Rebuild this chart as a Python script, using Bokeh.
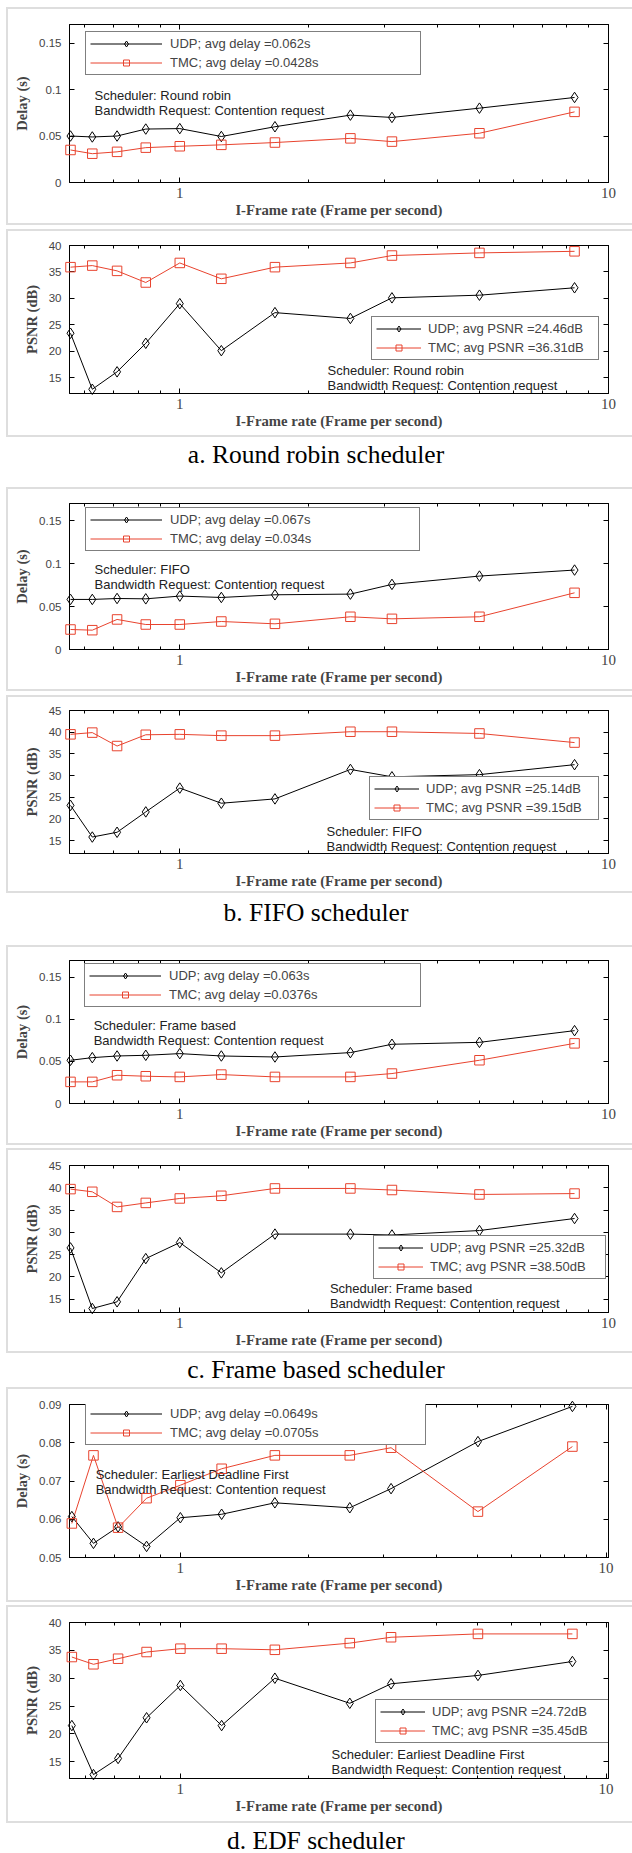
from bokeh.plotting import figure
from bokeh.models import (Range1d, FixedTicker, LogAxis, LinearAxis, Legend,
                          LegendItem, Label, Div, Spacer)
from bokeh.layouts import column
from bokeh.embed import file_html
from bokeh.resources import INLINE

# ---------------- data ----------------
iframe_rate = [0.556, 0.625, 0.714, 0.833, 1.0, 1.25, 1.667, 2.5, 3.125, 5.0, 8.333]

rr_delay_udp = [0.050, 0.049, 0.050, 0.0575, 0.058, 0.0495, 0.060, 0.0725, 0.070, 0.080, 0.0915]
rr_delay_tmc = [0.035, 0.031, 0.033, 0.0375, 0.039, 0.0405, 0.043, 0.0475, 0.044, 0.053, 0.076]
rr_psnr_udp = [23.4, 12.8, 16.1, 21.5, 29.0, 20.1, 27.3, 26.2, 30.1, 30.6, 32.0]
rr_psnr_tmc = [35.9, 36.2, 35.2, 33.0, 36.7, 33.7, 35.9, 36.7, 38.1, 38.6, 38.9]

fifo_delay_udp = [0.0583, 0.0583, 0.0594, 0.059, 0.0622, 0.0606, 0.0637, 0.0645, 0.0758, 0.0855, 0.0925]
fifo_delay_tmc = [0.0233, 0.0225, 0.035, 0.0291, 0.0291, 0.0326, 0.0299, 0.0381, 0.0357, 0.0381, 0.066]
fifo_psnr_udp = [23.1, 15.8, 16.9, 21.6, 27.1, 23.6, 24.6, 31.4, 29.7, 30.2, 32.5]
fifo_psnr_tmc = [39.5, 39.9, 36.8, 39.4, 39.5, 39.2, 39.2, 40.1, 40.1, 39.7, 37.6]

fb_delay_udp = [0.0514, 0.0545, 0.0565, 0.0573, 0.0593, 0.0565, 0.0553, 0.0605, 0.0704, 0.0727, 0.0866]
fb_delay_tmc = [0.0257, 0.0257, 0.0336, 0.0324, 0.0316, 0.0344, 0.0316, 0.0316, 0.0356, 0.0514, 0.0715]
fb_psnr_udp = [26.5, 12.9, 14.4, 24.1, 27.7, 20.9, 29.6, 29.6, 29.4, 30.4, 33.1]
fb_psnr_tmc = [39.7, 39.1, 35.7, 36.6, 37.6, 38.2, 39.85, 39.85, 39.5, 38.5, 38.7]

edf_delay_udp = [0.0607, 0.0537, 0.058, 0.0529, 0.0604, 0.0613, 0.0643, 0.0630, 0.0680, 0.0803, 0.0895]
edf_delay_tmc = [0.0589, 0.0767, 0.0578, 0.0655, 0.0689, 0.0732, 0.0767, 0.0767, 0.0787, 0.0620, 0.079]
edf_psnr_udp = [21.5, 12.7, 15.6, 22.9, 28.7, 21.5, 30.0, 25.5, 29.0, 30.5, 33.0]
edf_psnr_tmc = [33.8, 32.5, 33.5, 34.7, 35.3, 35.3, 35.1, 36.3, 37.35, 37.95, 37.95]

x_major_ticks = [1, 10]
x_minor_ticks = [0.6, 0.7, 0.8, 0.9, 2, 3, 4, 5, 6, 7, 8, 9]
delay_ticks = [0, 0.05, 0.1, 0.15]
delay_tick_labels = {0: "0", 0.05: "0.05", 0.1: "0.1", 0.15: "0.15"}
edf_delay_ticks = [0.05, 0.06, 0.07, 0.08, 0.09]
psnr_ticks_40 = [15, 20, 25, 30, 35, 40]
psnr_ticks_45 = [15, 20, 25, 30, 35, 40, 45]

x_title = "I-Frame rate (Frame per second)"
captions = ["a. Round robin scheduler", "b. FIFO scheduler",
            "c. Frame based scheduler", "d. EDF scheduler"]

SANS = "Liberation Sans"
SERIF = "Liberation Serif"
TMC_COLOR = "#e8432e"
BOX = "2px solid #dedede"


def make_panel(x_rng, y_rng, yticks, ylabel, udp, tmc, labels, sched,
               box_h, frame_l, frame_r, mb_top, mb_bot,
               leg_loc, leg_w, is_delay, note_loc):
    # the canvas starts 2px inside the grey box (x = 8) and keeps the full size
    p = figure(width=626, height=box_h, x_axis_type="log",
               x_range=Range1d(*x_rng), y_range=Range1d(*y_rng),
               output_backend="svg", toolbar_location=None,
               min_border_left=frame_l - 8, min_border_right=634 - frame_r,
               min_border_top=mb_top, min_border_bottom=mb_bot + 4,
               margin=(0, 0, 0, 6),
               styles={"border-top": BOX, "border-bottom": BOX, "border-left": BOX})
    p.xgrid.visible = False
    p.ygrid.visible = False
    p.outline_line_color = "black"
    p.outline_line_width = 1

    xt = FixedTicker(ticks=x_major_ticks, minor_ticks=x_minor_ticks)
    yt = FixedTicker(ticks=yticks)

    xa = p.xaxis[0]
    xa.ticker = xt
    xa.major_label_overrides = {1: "1", 10: "10"}
    xa.axis_label = x_title
    xa.axis_label_text_font = SERIF
    xa.axis_label_text_font_style = "bold"
    xa.axis_label_text_font_size = "14.7px"
    xa.axis_label_standoff = 1
    xa.major_label_text_font = SERIF
    xa.major_label_text_font_size = "15px"
    xa.major_label_standoff = 5
    xa.major_tick_in = 5
    xa.major_tick_out = 0
    xa.minor_tick_in = 3
    xa.minor_tick_out = 0

    ya = p.yaxis[0]
    ya.ticker = yt
    if is_delay and yticks == delay_ticks:
        ya.major_label_overrides = delay_tick_labels
    ya.axis_label = ylabel
    ya.axis_label_text_font = SERIF
    ya.axis_label_text_font_style = "bold"
    ya.axis_label_text_font_size = "14.5px"
    ya.axis_label_standoff = 6
    ya.major_label_text_font = SANS
    ya.major_label_text_font_size = "11.5px"
    ya.major_label_standoff = 8
    ya.major_tick_in = 5
    ya.major_tick_out = 0
    ya.minor_tick_in = 0
    ya.minor_tick_out = 0

    top = LogAxis(ticker=xt, major_label_text_font_size="1px", major_label_text_color=None,
                  major_label_standoff=0,
                  major_tick_in=5, major_tick_out=0, minor_tick_in=3, minor_tick_out=0)
    p.add_layout(top, "above")
    right = LinearAxis(ticker=yt, major_label_text_font_size="1px", major_label_text_color=None,
                       major_label_standoff=0,
                       major_tick_in=5, major_tick_out=0, minor_tick_in=0, minor_tick_out=0)
    p.add_layout(right, "right")

    l1 = p.line(iframe_rate, udp, line_color="black", line_width=1)
    s1 = p.scatter(iframe_rate, udp, marker="diamond", size=10.5, line_color="black",
                   fill_color=None, line_width=1, level="overlay")
    l2 = p.line(iframe_rate, tmc, line_color=TMC_COLOR, line_width=1)
    s2 = p.scatter(iframe_rate, tmc, marker="square", size=9.5, line_color=TMC_COLOR,
                   fill_color=None, line_width=1, level="overlay")

    gw = 72 if is_delay else 45
    so = 8 if is_delay else 7
    leg = Legend(items=[LegendItem(label=labels[0], renderers=[l1, s1]),
                        LegendItem(label=labels[1], renderers=[l2, s2])],
                 location=(int(round(leg_loc[0])), int(round(leg_loc[1]))),
                 padding=4, spacing=4, margin=0,
                 glyph_width=gw, glyph_height=15, label_height=15,
                 label_standoff=so, label_width=int(leg_w - 8 - gw - so),
                 label_text_font=SANS, label_text_font_size="13px",
                 border_line_color="black", border_line_width=1,
                 background_fill_color="white", background_fill_alpha=1)
    p.add_layout(leg)

    nx, ny = note_loc
    for i, t in enumerate(["Scheduler: " + sched, "Bandwidth Request: Contention request"]):
        p.add_layout(Label(x=nx, y=ny - 15 * i, x_units="screen", y_units="screen",
                           text=t, text_font=SANS, text_font_size="13px",
                           text_baseline="middle", text_align="left", text_color="#222222"))
    return p


def caption(text, h, lh):
    return Div(text=text, width=632, height=h, margin=0,
               styles={"font-family": SERIF, "font-size": "25.5px", "text-align": "center",
                       "line-height": "%dpx" % lh, "color": "black"})


XR = (0.553, 10.0)
XR_D = (0.549, 10.13)

p1 = make_panel(XR, (0, 0.17), delay_ticks, "Delay (s)", rr_delay_udp, rr_delay_tmc,
                ["UDP; avg delay =0.062s", "TMC; avg delay =0.0428s"], "Round robin",
                218, 68, 609, 15, 41, (15.7, 107), 334, True, (25, 87))
p2 = make_panel(XR, (12, 40), psnr_ticks_40, "PSNR (dB)", rr_psnr_udp, rr_psnr_tmc,
                ["UDP; avg PSNR =24.46dB", "TMC; avg PSNR =36.31dB"], "Round robin",
                208, 68, 609, 14, 42, (301.6, 33.3), 226, False, (258, 22.6))
p3 = make_panel(XR, (0, 0.17), delay_ticks, "Delay (s)", fifo_delay_udp, fifo_delay_tmc,
                ["UDP; avg delay =0.067s", "TMC; avg delay =0.034s"], "FIFO",
                204, 68, 608, 14, 40, (15.7, 98), 333, True, (25, 80.3))
p4 = make_panel(XR, (12, 45), psnr_ticks_45, "PSNR (dB)", fifo_psnr_udp, fifo_psnr_tmc,
                ["UDP; avg PSNR =25.14dB", "TMC; avg PSNR =39.15dB"], "FIFO",
                198, 69, 608, 13, 38, (299.5, 32.6), 228, False, (257, 22.3))
p5 = make_panel(XR, (0, 0.17), delay_ticks, "Delay (s)", fb_delay_udp, fb_delay_tmc,
                ["UDP; avg delay =0.063s", "TMC; avg delay =0.0376s"], "Frame based",
                200, 65, 609, 13, 40, (15.3, 96), 335, True, (24.2, 78.3))
p6 = make_panel(XR, (12, 45), psnr_ticks_45, "PSNR (dB)", fb_psnr_udp, fb_psnr_tmc,
                ["UDP; avg PSNR =25.32dB", "TMC; avg PSNR =38.50dB"], "Frame based",
                205, 65, 611, 15, 39, (303.5, 33.4), 231, False, (260.4, 24))
p7 = make_panel(XR_D, (0.05, 0.09), edf_delay_ticks, "Delay (s)", edf_delay_udp, edf_delay_tmc,
                ["UDP; avg delay =0.0649s", "TMC; avg delay =0.0705s"], "Earliest Deadline First",
                215, 64, 613, 15, 43, (16.1, 112), 339, True, (26.2, 83.4))
p8 = make_panel(XR_D, (12, 40), psnr_ticks_40, "PSNR (dB)", edf_psnr_udp, edf_psnr_tmc,
                ["UDP; avg PSNR =24.72dB", "TMC; avg PSNR =35.45dB"], "Earliest Deadline First",
                218, 64, 614, 15, 43, (305.5, 35.4), 243, False, (262, 23.7))

layout = column(
    Spacer(height=7, width=632, margin=0),
    p1, Spacer(height=4, width=632, margin=0), p2, caption(captions[0], 50, 36),
    p3, Spacer(height=4, width=632, margin=0), p4, caption(captions[1], 52, 39),
    p5, Spacer(height=3, width=632, margin=0), p6, caption(captions[2], 34, 34),
    p7, Spacer(height=3, width=632, margin=0), p8, caption(captions[3], 30, 36),
    spacing=0, margin=0,
)

open("out.html", "w").write(file_html(layout, INLINE))
